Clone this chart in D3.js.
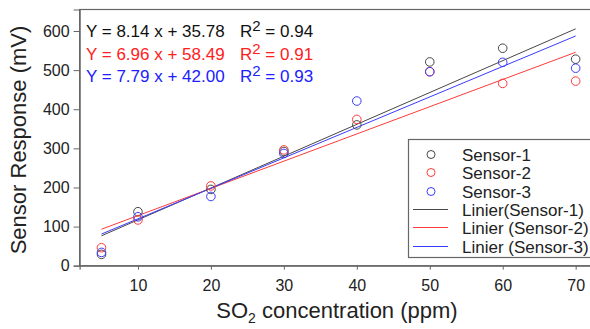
<!DOCTYPE html>
<html>
<head>
<meta charset="utf-8">
<script src="https://cdn.jsdelivr.net/npm/d3@7"></script>
<style>
  body { margin: 0; background: #fff; }
  svg { display: block; font-family: "Liberation Sans", Arial, sans-serif; }
</style>
</head>
<body>
<div id="chart"></div>
<script>
// data
const concentrations = [5, 10, 20, 30, 40, 50, 60, 70];
const sensor1 = [29, 138, 195, 292, 360, 521, 556, 528];
const sensor2 = [46, 117, 204, 296, 374, 496, 466, 472];
const sensor3 = [34, 125, 177, 287, 421, 496, 520, 505];
const seriesNames = ["Sensor-1", "Sensor-2", "Sensor-3"];
const fitNames = ["Linier(Sensor-1)", "Linier (Sensor-2)", "Linier (Sensor-3)"];
const slopes = [8.14, 6.96, 7.79];
const intercepts = [35.78, 58.49, 42.00];
const rSquared = [0.94, 0.91, 0.93];
const xTicks = [10, 20, 30, 40, 50, 60, 70];
const yTicks = [0, 100, 200, 300, 400, 500, 600];

const colors = ["#474747", "#ff3b3b", "#3b3bff"];
const textColors = ["#111", "#ff2020", "#2020ff"];
const allSeries = [sensor1, sensor2, sensor3];

const width = 590, height = 329;
const svg = d3.select("#chart").append("svg")
  .attr("width", width).attr("height", height);

const x = d3.scaleLinear().domain([2, 72.5]).range([79.6, 593.9]);
const y = d3.scaleLinear().domain([0, 655]).range([265.7, 9.5]);

// plot frame (right side runs off the picture)
svg.append("rect")
  .attr("x", x(2)).attr("y", y(655))
  .attr("width", 600).attr("height", y(0) - y(655))
  .attr("fill", "none").attr("stroke", "#666").attr("stroke-width", 1.2);

// axes
const xAxis = svg.append("g")
  .attr("transform", `translate(0,${y(0)})`)
  .call(d3.axisBottom(x).tickValues(xTicks).tickSize(4).tickPadding(10));
const yAxis = svg.append("g")
  .attr("transform", `translate(${x(2)},0)`)
  .call(d3.axisLeft(y).tickValues(yTicks).tickSize(6).tickPadding(4));
[xAxis, yAxis].forEach(a => {
  a.select(".domain").attr("stroke", "#666").attr("stroke-width", 1.2);
  a.selectAll(".tick line").attr("stroke", "#666");
  a.selectAll(".tick text").attr("font-size", 16).attr("fill", "#222")
    .attr("font-family", "'Liberation Sans', Arial, sans-serif");
});

// regression lines
const xs = [5, 70];
allSeries.forEach((s, i) => {
  svg.append("line")
    .attr("x1", x(xs[0])).attr("y1", y(slopes[i] * xs[0] + intercepts[i]))
    .attr("x2", x(xs[1])).attr("y2", y(slopes[i] * xs[1] + intercepts[i]))
    .attr("stroke", colors[i]).attr("stroke-width", 1);
});

// points
allSeries.forEach((s, i) => {
  svg.append("g").selectAll("circle")
    .data(s)
    .join("circle")
    .attr("cx", (d, j) => x(concentrations[j]))
    .attr("cy", d => y(d))
    .attr("r", 4.3)
    .attr("fill", "none")
    .attr("stroke", colors[i])
    .attr("stroke-width", 1);
});

// equations
const eq = svg.append("g").attr("font-size", 17);
slopes.forEach((m, i) => {
  const yy = 37 + i * 22.5;
  eq.append("text").attr("x", 86).attr("y", yy).attr("fill", textColors[i])
    .text(`Y = ${m.toFixed(2)} x + ${intercepts[i].toFixed(2)}`);
  const r = eq.append("text").attr("x", 240).attr("y", yy).attr("fill", textColors[i]);
  r.append("tspan").text("R");
  r.append("tspan").attr("dy", -6).attr("font-size", 15).text("2");
  r.append("tspan").attr("dy", 6).text(` = ${rSquared[i].toFixed(2)}`);
});

// legend
const lg = svg.append("g");
lg.append("rect").attr("x", 408.5).attr("y", 139.5).attr("width", 200).attr("height", 118)
  .attr("fill", "#fff").attr("stroke", "#666").attr("stroke-width", 1.2);
const rowY = i => Math.round(154 + i * 18.3) + 0.5;
seriesNames.forEach((n, i) => {
  lg.append("circle").attr("cx", 431).attr("cy", rowY(i)).attr("r", 4)
    .attr("fill", "none").attr("stroke", colors[i]).attr("stroke-width", 1);
  lg.append("text").attr("x", 462).attr("y", rowY(i)).attr("dy", "0.36em")
    .attr("font-size", 17).attr("fill", "#222").text(n);
});
fitNames.forEach((n, i) => {
  const yy = rowY(i + 3);
  lg.append("line").attr("x1", 413).attr("x2", 448).attr("y1", yy).attr("y2", yy)
    .attr("stroke", colors[i]).attr("stroke-width", 1);
  lg.append("text").attr("x", 462).attr("y", yy).attr("dy", "0.36em")
    .attr("font-size", 17).attr("fill", "#222").text(n);
});

// axis titles
svg.append("text")
  .attr("transform", "translate(26,140) rotate(-90)")
  .attr("text-anchor", "middle").attr("font-size", 22).attr("fill", "#222")
  .text("Sensor Response (mV)");
const xt = svg.append("text")
  .attr("x", 337).attr("y", 318).attr("text-anchor", "middle")
  .attr("font-size", 22).attr("fill", "#222");
xt.append("tspan").text("SO");
xt.append("tspan").attr("dy", 5).attr("font-size", 14).text("2");
xt.append("tspan").attr("dy", -5).text(" concentration (ppm)");
</script>
</body>
</html>
